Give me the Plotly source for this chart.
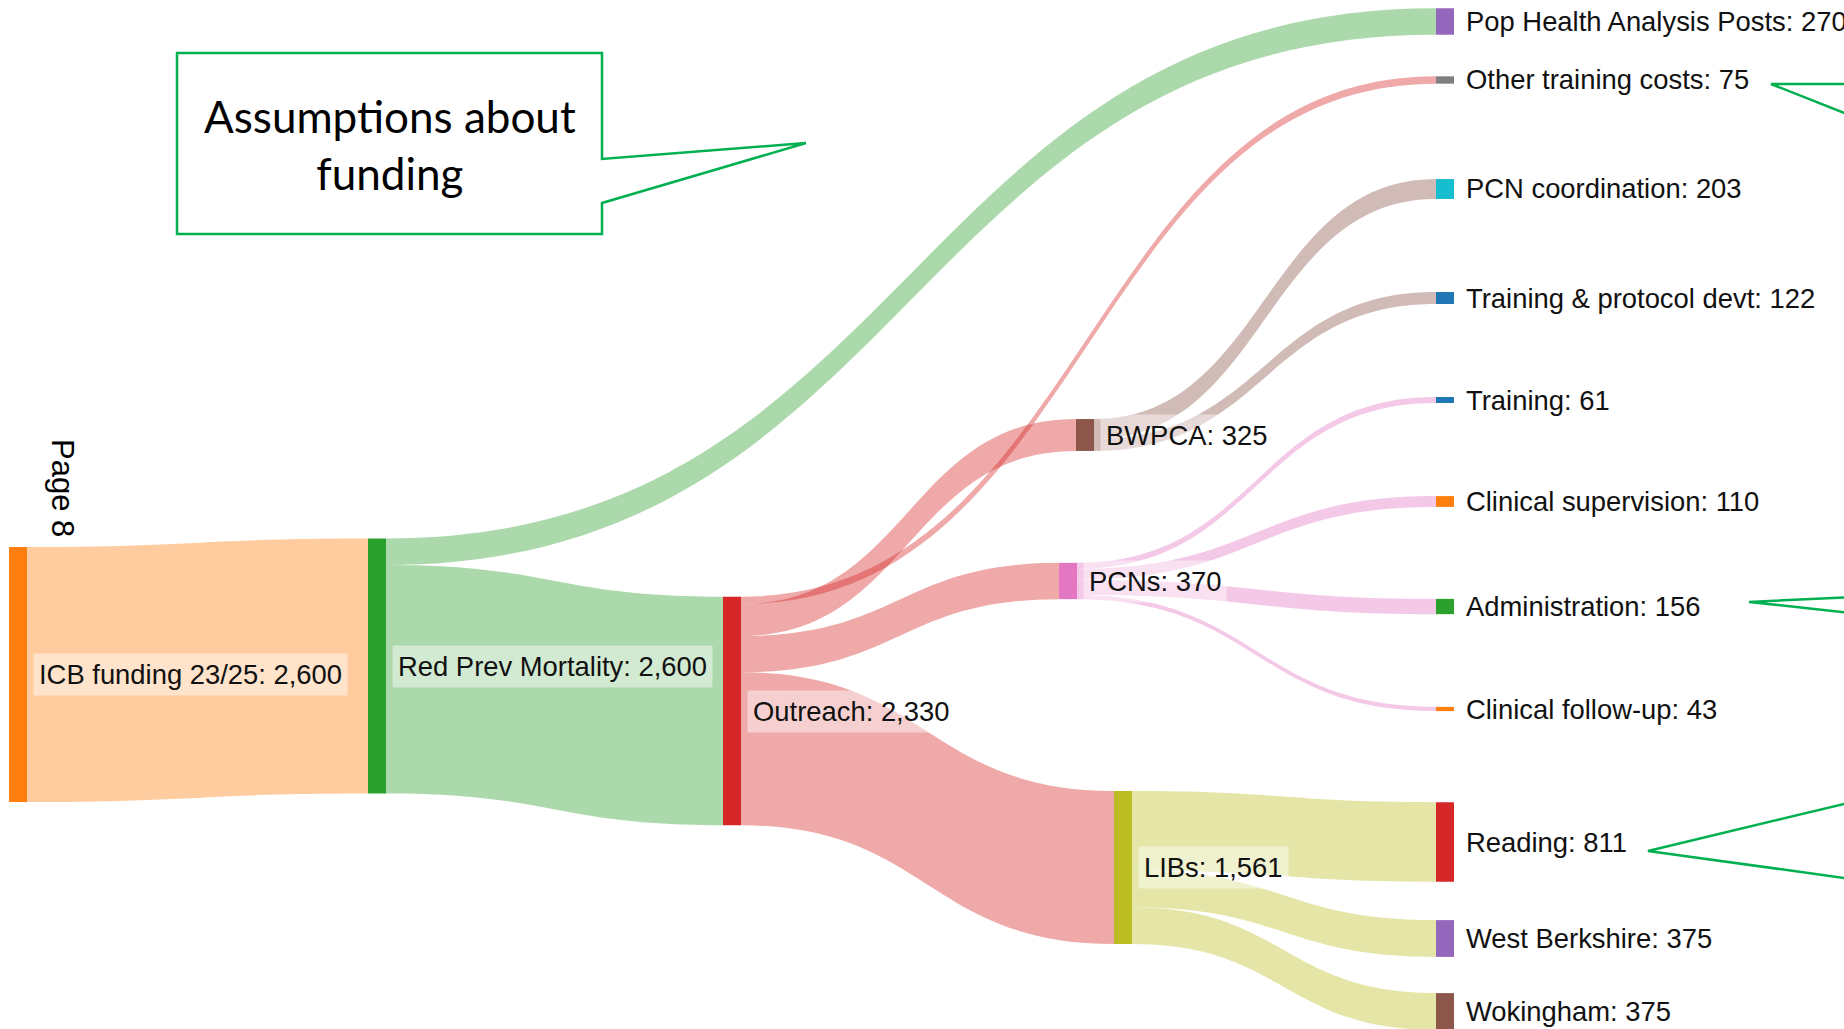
import plotly.graph_objects as go

W, H = 1844, 1029

# ---------------- data ----------------
node_names = [
    "ICB funding 23/25", "Red Prev Mortality", "Outreach",
    "Pop Health Analysis Posts", "Other training costs",
    "BWPCA", "PCNs", "LIBs",
    "PCN coordination", "Training & protocol devt",
    "Training", "Clinical supervision", "Administration", "Clinical follow-up",
    "Reading", "West Berkshire", "Wokingham",
]
link_source = [0, 1, 1, 2, 2, 2, 2, 5, 5, 6, 6, 6, 6, 7, 7, 7]
link_target = [1, 3, 2, 4, 5, 6, 7, 8, 9, 10, 11, 12, 13, 14, 15, 16]
link_values = [2600, 270, 2330, 74.6, 325, 370, 1560.6, 203, 122,
               61, 110, 156, 43, 810.6, 375, 375]

callout_text = "Assumptions about<br>funding"
page_text = "Page 8"

# ---------------- styles / layout positions ----------------
node_colors = [
    "#ff7f0e", "#2ca02c", "#d62728",
    "#9467bd", "#7f7f7f",
    "#8c564b", "#e377c2", "#bcbd22",
    "#17becf", "#1f77b4",
    "#1f77b4", "#ff7f0e", "#2ca02c", "#ff7f0e",
    "#d62728", "#9467bd", "#8c564b",
]
# node centre positions in pixels
node_x_px = [18, 377, 732, 1445, 1445, 1085, 1068, 1123,
             1445, 1445, 1445, 1445, 1445, 1445, 1445, 1445, 1445]
node_y_px = [674.5, 666, 711, 21.5, 80, 435, 581, 867.5,
             189, 298, 400, 501.5, 606.5, 709, 842, 938.5, 1011.5]
THICK = 18
SANKEY_H = 255.0   # pixel height of the sankey scale domain (sets value->px scale)


def hex_rgba(h, a):
    h = h.lstrip("#")
    return f"rgba({int(h[0:2],16)},{int(h[2:4],16)},{int(h[4:6],16)},{a})"


link_colors = [hex_rgba(node_colors[s], 0.4) for s in link_source]

# node values (max of in / out)
n = len(node_names)
vin = [0.0] * n
vout = [0.0] * n
for s, t, v in zip(link_source, link_target, link_values):
    vout[s] += v
    vin[t] += v
node_values = [max(a, b) for a, b in zip(vin, vout)]
label_texts = [f"{nm}: {v:,.0f}" for nm, v in zip(node_names, node_values)]

fig = go.Figure()
fig.add_trace(go.Sankey(
    arrangement="fixed",
    domain=dict(x=[0, 1], y=[1 - SANKEY_H / H, 1]),
    valueformat=",.0f",
    textfont=dict(size=1, color="rgba(0,0,0,0)"),
    node=dict(
        label=node_names,
        color=node_colors,
        thickness=THICK,
        pad=0,
        line=dict(width=0),
        x=[x / W for x in node_x_px],
        y=[y / SANKEY_H for y in node_y_px],
    ),
    link=dict(
        source=link_source,
        target=link_target,
        value=link_values,
        color=link_colors,
    ),
))

LABEL_FONT = dict(family="Arial, 'Liberation Sans', sans-serif", size=27.4, color="#111111")
annotations = []
for txt, x, y in zip(label_texts, node_x_px, node_y_px):
    annotations.append(dict(
        text=txt, xref="paper", yref="paper",
        x=(x + THICK / 2 + 6) / W, y=1 - y / H,
        xanchor="left", yanchor="middle", showarrow=False,
        font=LABEL_FONT, bgcolor="rgba(255,255,255,0.45)",
        borderpad=5, align="left",
    ))

annotations.append(dict(
    text=page_text, xref="paper", yref="paper",
    x=63 / W, y=1 - 488 / H, xanchor="center", yanchor="middle",
    textangle=90, showarrow=False,
    font=dict(family="Arial, 'Liberation Sans', sans-serif", size=31, color="#000000"),
))

annotations.append(dict(
    text=callout_text, xref="paper", yref="paper",
    x=389.5 / W, y=1 - 145 / H, xanchor="center", yanchor="middle",
    showarrow=False, align="center",
    font=dict(family="Lato, 'Open Sans', sans-serif", size=44, color="#000000"),
))


def px_path(points, close=False):
    parts = []
    for i, (x, y) in enumerate(points):
        parts.append(("M" if i == 0 else "L") + f"{x / W:.5f},{1 - y / H:.5f}")
    return " ".join(parts) + (" Z" if close else "")


GREEN = "#00B050"
shapes = [
    dict(type="path", xref="paper", yref="paper",
         path=px_path([(177, 53), (602, 53), (602, 159), (806, 143),
                       (602, 203), (602, 234), (177, 234)], close=True),
         line=dict(color=GREEN, width=2.5), fillcolor="rgba(255,255,255,0)"),
    dict(type="path", xref="paper", yref="paper",
         path=px_path([(1852, 84), (1771, 84), (1852, 116)]),
         line=dict(color=GREEN, width=2.5)),
    dict(type="path", xref="paper", yref="paper",
         path=px_path([(1852, 597), (1749, 602), (1852, 613)]),
         line=dict(color=GREEN, width=2.5)),
    dict(type="path", xref="paper", yref="paper",
         path=px_path([(1852, 802), (1648, 851), (1852, 879)]),
         line=dict(color=GREEN, width=2.5)),
]

fig.update_layout(
    width=W, height=H,
    margin=dict(l=0, r=0, t=0, b=0),
    paper_bgcolor="white", plot_bgcolor="white",
    annotations=annotations, shapes=shapes,
    showlegend=False,
)

fig.write_html("out.html")
